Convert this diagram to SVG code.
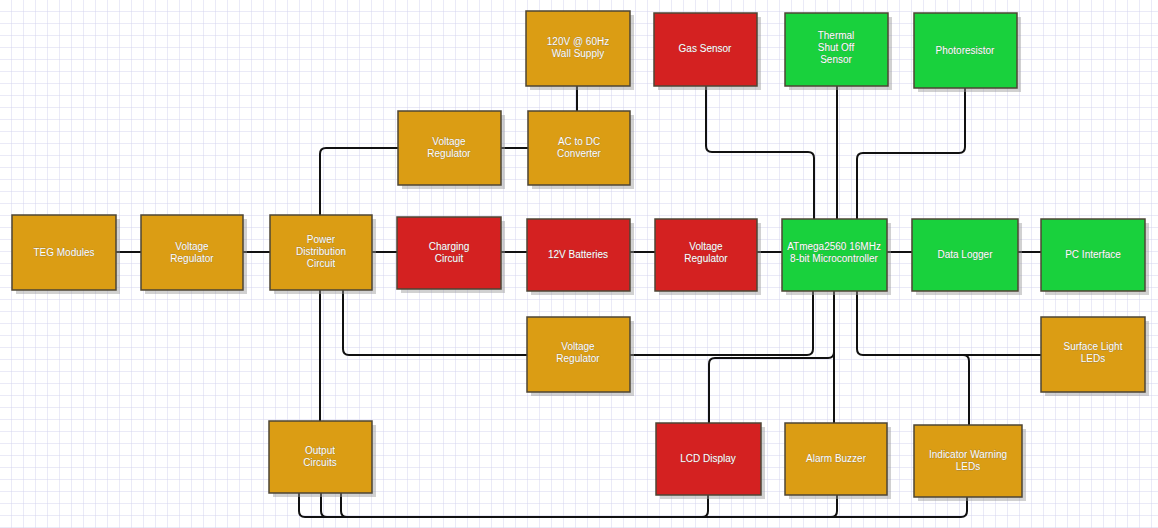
<svg xmlns="http://www.w3.org/2000/svg" width="1158" height="528" viewBox="0 0 1158 528">
<defs>
<pattern id="grid" width="12" height="12" patternUnits="userSpaceOnUse">
<path d="M12 0 V12 M0 12 H12" fill="none" stroke="#d4d4ee" stroke-width="1"/>
</pattern>
<style>
.box{stroke:#4d4535;stroke-width:1.5}
.sh{fill:#9a9a9a;opacity:0.45}
.o{fill:#db9d14}
.r{fill:#d42121}
.g{fill:#19d13d}
.t{font-family:"Liberation Sans",Arial,sans-serif;font-size:10px;fill:#ffffff;text-anchor:middle;stroke:#6a6a6a;stroke-width:0.3;paint-order:stroke}
.c{fill:none;stroke:#111111;stroke-width:2;stroke-linejoin:round}
</style>
</defs>
<rect width="1158" height="528" fill="#ffffff"/>
<rect width="1158" height="528" fill="url(#grid)"/>
<g id="connectors">
<path class="c" d="M116 252 H141 M243 252 H270 M372 252 H397 M501 252 H527 M630 252 H655 M757 252 H782 M887 252 H912 M1018 252 H1041"/>
<path class="c" d="M577 86 V111 M501 148 H528"/>
<path class="c" d="M398 148 H326 Q320 148 320 154 V215"/>
<path class="c" d="M706 86 V146 Q706 152 712 152 H808 Q814 152 814 158 V219"/>
<path class="c" d="M837 86 V219"/>
<path class="c" d="M965 88 V147 Q965 153 959 153 H863 Q857 153 857 159 V219"/>
<path class="c" d="M320 290 V421"/>
<path class="c" d="M343 290 V349 Q343 355 349 355 H527"/>
<path class="c" d="M630 355 H807 Q813 355 813 349 V291"/>
<path class="c" d="M834 291 V423"/>
<path class="c" d="M709 423 V364 Q709 358 715 358 H828 Q834 358 834 352"/>
<path class="c" d="M857 291 V349 Q857 355 863 355 H1041"/>
<path class="c" d="M969 425 V361 Q969 355 963 355"/>
<path class="c" d="M299 493 V511 Q299 517 305 517 H961 Q967 517 967 511 V497"/>
<path class="c" d="M321 493 V511 Q321 517 327 517 M341 493 V511 Q341 517 347 517"/>
<path class="c" d="M708 495 V511 Q708 517 702 517 M837 495 V511 Q837 517 831 517"/>
</g>
<g id="teg"><rect class="sh" x="16" y="219" width="104" height="75"/><rect class="box o" x="12" y="215" width="104" height="75"/><text class="t" x="64" y="256">TEG Modules</text></g>
<g id="vr1"><rect class="sh" x="145" y="219" width="102" height="75"/><rect class="box o" x="141" y="215" width="102" height="75"/><text class="t" x="192" y="250">Voltage<tspan x="192" dy="12">Regulator</tspan></text></g>
<g id="pdc"><rect class="sh" x="274" y="219" width="102" height="75"/><rect class="box o" x="270" y="215" width="102" height="75"/><text class="t" x="321" y="243">Power<tspan x="321" dy="12">Distribution</tspan><tspan x="321" dy="12">Circuit</tspan></text></g>
<g id="charging"><rect class="sh" x="401" y="221" width="104" height="72"/><rect class="box r" x="397" y="217" width="104" height="72"/><text class="t" x="449" y="250">Charging<tspan x="449" dy="12">Circuit</tspan></text></g>
<g id="batteries"><rect class="sh" x="531" y="223" width="103" height="72"/><rect class="box r" x="527" y="219" width="103" height="72"/><text class="t" x="578" y="258">12V Batteries</text></g>
<g id="vr2"><rect class="sh" x="659" y="223" width="102" height="72"/><rect class="box r" x="655" y="219" width="102" height="72"/><text class="t" x="706" y="250">Voltage<tspan x="706" dy="12">Regulator</tspan></text></g>
<g id="mcu"><rect class="sh" x="786" y="223" width="105" height="72"/><rect class="box g" x="782" y="219" width="105" height="72"/><text class="t" x="834" y="250">ATmega2560 16MHz<tspan x="834" dy="12">8-bit Microcontroller</tspan></text></g>
<g id="datalogger"><rect class="sh" x="916" y="223" width="106" height="72"/><rect class="box g" x="912" y="219" width="106" height="72"/><text class="t" x="965" y="258">Data Logger</text></g>
<g id="pc"><rect class="sh" x="1045" y="223" width="104" height="72"/><rect class="box g" x="1041" y="219" width="104" height="72"/><text class="t" x="1093" y="258">PC Interface</text></g>
<g id="wall"><rect class="sh" x="530" y="15" width="104" height="75"/><rect class="box o" x="526" y="11" width="104" height="75"/><text class="t" x="578" y="45">120V @ 60Hz<tspan x="578" dy="12">Wall Supply</tspan></text></g>
<g id="acdc"><rect class="sh" x="532" y="115" width="102" height="74"/><rect class="box o" x="528" y="111" width="102" height="74"/><text class="t" x="579" y="145">AC to DC<tspan x="579" dy="12">Converter</tspan></text></g>
<g id="vr3"><rect class="sh" x="402" y="115" width="103" height="74"/><rect class="box o" x="398" y="111" width="103" height="74"/><text class="t" x="449" y="145">Voltage<tspan x="449" dy="12">Regulator</tspan></text></g>
<g id="gas"><rect class="sh" x="658" y="17" width="103" height="73"/><rect class="box r" x="654" y="13" width="103" height="73"/><text class="t" x="705" y="52">Gas Sensor</text></g>
<g id="thermal"><rect class="sh" x="789" y="17" width="103" height="73"/><rect class="box g" x="785" y="13" width="103" height="73"/><text class="t" x="836" y="39">Thermal<tspan x="836" dy="12">Shut Off</tspan><tspan x="836" dy="12">Sensor</tspan></text></g>
<g id="photo"><rect class="sh" x="918" y="17" width="103" height="75"/><rect class="box g" x="914" y="13" width="103" height="75"/><text class="t" x="965" y="54">Photoresistor</text></g>
<g id="vr4"><rect class="sh" x="531" y="321" width="103" height="75"/><rect class="box o" x="527" y="317" width="103" height="75"/><text class="t" x="578" y="350">Voltage<tspan x="578" dy="12">Regulator</tspan></text></g>
<g id="surface"><rect class="sh" x="1045" y="321" width="104" height="75"/><rect class="box o" x="1041" y="317" width="104" height="75"/><text class="t" x="1093" y="350">Surface Light<tspan x="1093" dy="12">LEDs</tspan></text></g>
<g id="output"><rect class="sh" x="273" y="425" width="103" height="72"/><rect class="box o" x="269" y="421" width="103" height="72"/><text class="t" x="320" y="454">Output<tspan x="320" dy="12">Circuits</tspan></text></g>
<g id="lcd"><rect class="sh" x="660" y="427" width="105" height="72"/><rect class="box r" x="656" y="423" width="105" height="72"/><text class="t" x="708" y="462">LCD Display</text></g>
<g id="buzzer"><rect class="sh" x="789" y="427" width="102" height="72"/><rect class="box o" x="785" y="423" width="102" height="72"/><text class="t" x="836" y="462">Alarm Buzzer</text></g>
<g id="warning"><rect class="sh" x="918" y="429" width="108" height="72"/><rect class="box o" x="914" y="425" width="108" height="72"/><text class="t" x="968" y="458">Indicator Warning<tspan x="968" dy="12">LEDs</tspan></text></g>
</svg>
